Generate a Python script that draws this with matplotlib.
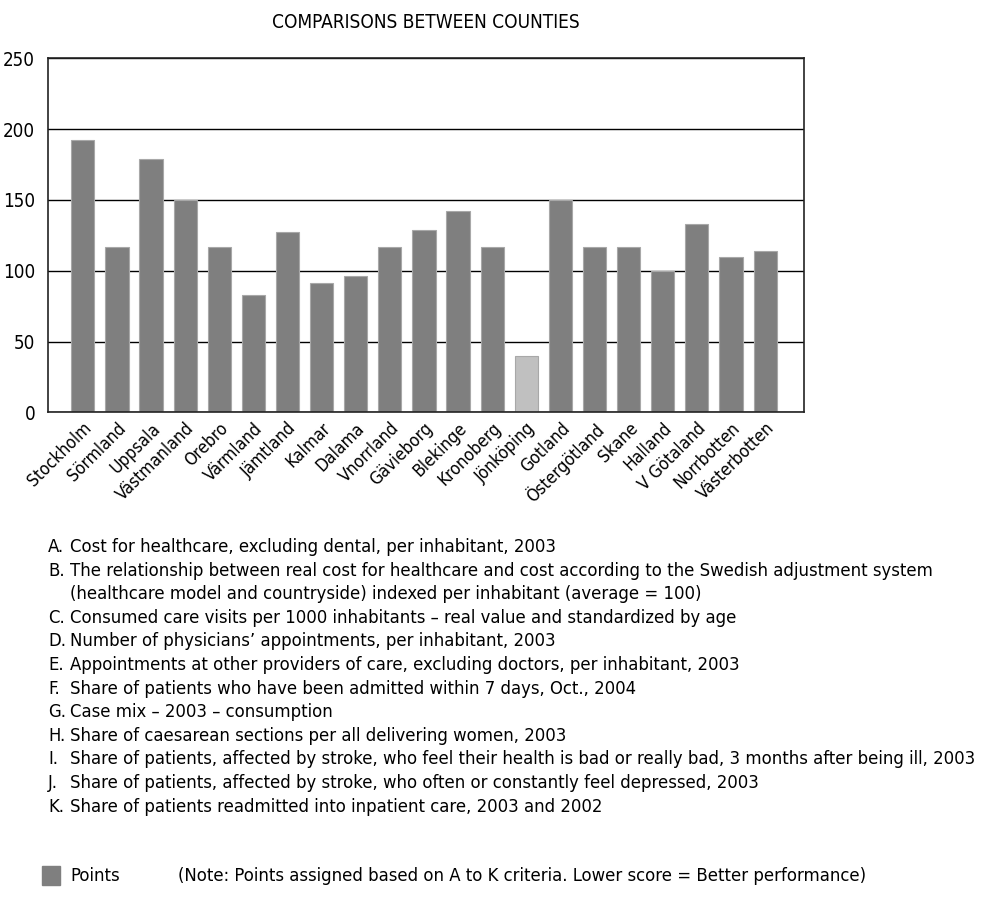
import matplotlib
matplotlib.use('Agg')
import matplotlib.pyplot as plt

counties = ['Stockholm', 'Sörmland', 'Uppsala', 'Västmanland', 'Orebro', 'Värmland',
            'Jämtland', 'Kalmar', 'Dalama', 'Vnorrland', 'Gävieborg', 'Blekinge',
            'Kronoberg', 'Jönköping', 'Gotland', 'Östergötland', 'Skane', 'Halland',
            'V Götaland', 'Norrbotten', 'Västerbotten']
points = [192, 117, 179, 150, 117, 83, 127, 91, 96, 117, 129, 142,
          117, 40, 150, 117, 117, 100, 133, 110, 114]
highlight = 'Jönköping'
yticks = [0, 50, 100, 150, 200, 250]

criteria = [
    ('A.', 'Cost for healthcare, excluding dental, per inhabitant, 2003'),
    ('B.', 'The relationship between real cost for healthcare and cost according to the Swedish adjustment system'),
    ('', '(healthcare model and countryside) indexed per inhabitant (average = 100)'),
    ('C.', 'Consumed care visits per 1000 inhabitants \u2013 real value and standardized by age'),
    ('D.', 'Number of physicians\u2019 appointments, per inhabitant, 2003'),
    ('E.', 'Appointments at other providers of care, excluding doctors, per inhabitant, 2003'),
    ('F.', 'Share of patients who have been admitted within 7 days, Oct., 2004'),
    ('G.', 'Case mix \u2013 2003 \u2013 consumption'),
    ('H.', 'Share of caesarean sections per all delivering women, 2003'),
    ('I.', 'Share of patients, affected by stroke, who feel their health is bad or really bad, 3 months after being ill, 2003'),
    ('J.', 'Share of patients, affected by stroke, who often or constantly feel depressed, 2003'),
    ('K.', 'Share of patients readmitted into inpatient care, 2003 and 2002'),
]

plt.rcParams['font.family'] = ['DejaVu Sans']
plt.rcParams['font.stretch'] = 'condensed'

fig = plt.figure(figsize=(9.84, 9.01), dpi=100)
W, H = 984, 901
ax = fig.add_axes([47.7 / W, 1 - 412.3 / H, (804 - 47.7) / W, (412.3 - 58.3) / H])

colors = ['#c0c0c0' if c == highlight else '#7f7f7f' for c in counties]
x = list(range(len(counties)))
ax.bar(x, points, width=0.68, color=colors, edgecolor='#a8a8a8', linewidth=0.8, zorder=2)
ax.set_xlim(-1.03, 21.14)
ax.set_ylim(0, 250)
ax.set_yticks(yticks)
ax.yaxis.grid(True, color='black', linewidth=1.0, zorder=1)
ax.set_axisbelow(True)
ax.tick_params(axis='y', length=0, labelsize=13.5, pad=9)
ax.tick_params(axis='x', length=0, pad=5)
ax.set_xticks(x)
ax.set_xticklabels(counties, rotation=45, ha='right', rotation_mode='anchor', fontsize=12.5)
for s in ax.spines.values():
    s.set_linewidth(1.2)
    s.set_color('#222222')

fig.text(426 / W, 1 - 22 / H, 'COMPARISONS BETWEEN COUNTIES', ha='center', va='center', fontsize=13.7)

y0 = 547
fs = 13.2
for i, (lab, txt) in enumerate(criteria):
    yy = 1 - (y0 + i * 23.6) / H
    if lab:
        fig.text(48 / W, yy, lab, ha='left', va='center', fontsize=fs)
    fig.text(70 / W, yy, txt, ha='left', va='center', fontsize=fs)

fig.patches.append(plt.Rectangle((42 / W, 1 - 885 / H), 18 / W, 19 / H, transform=fig.transFigure,
                                 color='#7f7f7f'))
fig.text(70 / W, 1 - 876 / H, 'Points', ha='left', va='center', fontsize=fs)
fig.text(178 / W, 1 - 876 / H,
         '(Note: Points assigned based on A to K criteria. Lower score = Better performance)',
         ha='left', va='center', fontsize=fs)

fig.savefig('out.png', dpi=100)
